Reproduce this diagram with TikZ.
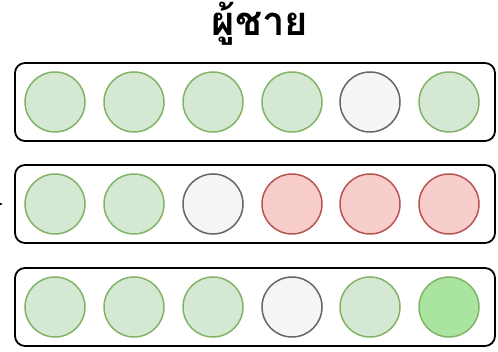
\documentclass[tikz,border=0pt]{standalone}
\usepackage{fontspec}
\newfontfamily\thaifont[Script=Thai]{Loma}
\usepackage{tikz}
\usetikzlibrary{arrows.meta,positioning}
\definecolor{okfill}{HTML}{D5E8D4}
\definecolor{okline}{HTML}{82B366}
\definecolor{nofill}{HTML}{F8CECC}
\definecolor{noline}{HTML}{B85450}
\definecolor{gfill}{HTML}{F5F5F5}
\definecolor{gline}{HTML}{666666}
\definecolor{hifill}{HTML}{A9E5A0}
\begin{document}
\begin{tikzpicture}[x=1pt,y=-1pt,>={Latex[length=5pt,width=5pt]},
 row/.style={draw,line width=1.8pt,rounded corners=10pt,minimum width=480pt,minimum height=78pt},
 ok/.style={draw=okline,fill=okfill,circle,line width=1.5pt,minimum size=60pt,inner sep=0pt},
 no/.style={draw=noline,fill=nofill,circle,line width=1.5pt,minimum size=60pt,inner sep=0pt},
 nil/.style={draw=gline,fill=gfill,circle,line width=1.5pt,minimum size=60pt,inner sep=0pt},
 hi/.style={draw=okline,fill=hifill,circle,line width=1.5pt,minimum size=60pt,inner sep=0pt}]
\useasboundingbox (0,0) rectangle (498,352);
\node[font={\thaifont\bfseries\fontsize{40}{44}\selectfont}] (title) at (260,24) {ผู้ชาย};

\node[row] (r1) at (255,102) {};
\node[row] (r2) at (255,204) {};
\node[row] (r3) at (255,307) {};

% row 1
\node[ok] (a1) at (55,102) {}; \node[ok] (a2) at (134,102) {}; \node[ok] (a3) at (213,102) {};
\node[ok] (a4) at (292,102) {}; \node[nil] (a5) at (370,102) {}; \node[ok] (a6) at (449,102) {};
% row 2
\node[ok] (b1) at (55,204) {}; \node[ok] (b2) at (134,204) {}; \node[nil] (b3) at (213,204) {};
\node[no] (b4) at (292,204) {}; \node[no] (b5) at (370,204) {}; \node[no] (b6) at (449,204) {};
% row 3
\node[ok] (c1) at (55,307) {}; \node[ok] (c2) at (134,307) {}; \node[ok] (c3) at (213,307) {};
\node[nil] (c4) at (292,307) {}; \node[ok] (c5) at (370,307) {}; \node[hi] (c6) at (449,307) {};

\coordinate (src) at (-20,204);
\draw[->,line width=1pt,shorten >=11pt] (src)--(r2.west);
\end{tikzpicture}
\end{document}
